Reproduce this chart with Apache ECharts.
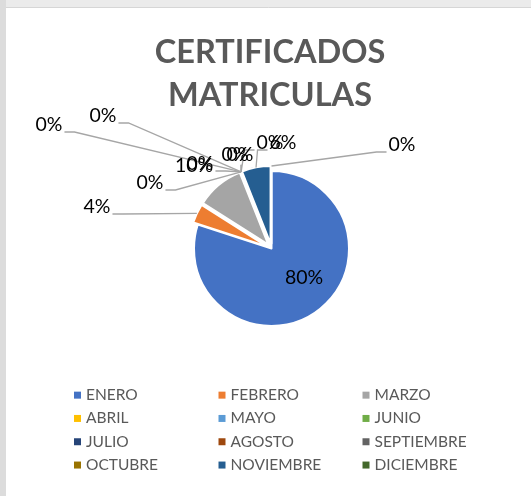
<!DOCTYPE html>
<html>
<head>
<meta charset="utf-8">
<script src="https://cdn.jsdelivr.net/npm/echarts@6/dist/echarts.min.js"></script>
<style>
html,body{margin:0;padding:0;background:#fff;}
#chart{width:531px;height:496px;}
</style>
</head>
<body>
<div id="chart"></div>
<script>
// ---- data ----
const categories = ['ENERO','FEBRERO','MARZO','ABRIL','MAYO','JUNIO','JULIO','AGOSTO','SEPTIEMBRE','OCTUBRE','NOVIEMBRE','DICIEMBRE'];
const values = [80, 4, 10, 0, 0, 0, 0, 0, 0, 0, 6, 0];
const titleLines = ['CERTIFICADOS', 'MATRICULAS'];

// ---- styles ----
const colors = ['#4472C4','#ED7D31','#A5A5A5','#FFC000','#5B9BD5','#70AD47','#264478','#9E480E','#636363','#997300','#255E91','#43682B'];
const labelPos = [[304,278],[97,207],[194,166],[200,164],[150,183],[49,125],[103,116],[235,155],[240,155],[270,143],[283,143],[402,145]];
const noLine = [0, 2];
const CX = 271.5, CY = 248.5, R = 77.5, OFF = 5;
const LABEL_FONT = '19.5px Lato';

const total = values.reduce((a,b)=>a+b,0);
function pct(i){ return Math.round(values[i] / total * 100) + '%'; }
function anchor(i){
  let s = 0;
  for (let k=0;k<i;k++) s += values[k];
  const mid = (s + values[i]/2) / total * 2 * Math.PI;
  const r = R + (i>0 ? OFF : 0);
  return [CX + r*Math.sin(mid), CY - r*Math.cos(mid)];
}
const ctx = document.createElement('canvas').getContext('2d');
ctx.font = LABEL_FONT;
function textW(t){ return ctx.measureText(t).width; }

const labelGraphics = [];
categories.forEach((n, i) => {
  const pos = labelPos[i];
  const t = pct(i);
  if (noLine.indexOf(i) < 0) {
    const w = textW(t), h = 19.5;
    const a = anchor(i);
    let pts;
    if (a[0] >= pos[0] - w/2 && a[0] <= pos[0] + w/2) {
      pts = [[a[0], pos[1] + h/2], a];
    } else if (a[0] > pos[0]) {
      const x0 = pos[0] + w/2 + 2;
      pts = [[x0, pos[1] + 7], [x0 + 10, pos[1] + 7], a];
    } else {
      const x0 = pos[0] - w/2 - 2;
      pts = [[x0, pos[1] + 7], [x0 - 10, pos[1] + 7], a];
    }
    labelGraphics.push({type:'polyline', z: 10, silent: true, shape:{points: pts},
      style:{stroke:'#a6a6a6', lineWidth:1.3, fill: null}});
  }
  labelGraphics.push({type:'text', z: 11, silent: true, x: pos[0], y: pos[1],
    style:{text: t, font: LABEL_FONT, fill:'#000', textAlign:'center', textVerticalAlign:'middle'}});
});

const chart = echarts.init(document.getElementById('chart'));
const legendLefts = [74, 218.5, 362.5];

chart.setOption({
  animation: false,
  title: {
    text: titleLines.join('\n'),
    left: 270, top: 31, padding: 0, textAlign: 'center',
    textStyle: {fontFamily: 'Lato', fontWeight: 'bold', fontSize: 32.5, color: '#595959', lineHeight: 43.3}
  },
  graphic: [
    {type:'rect', shape:{x:0,y:0,width:531,height:8}, style:{fill:'#ebebeb'}, silent:true},
    {type:'rect', shape:{x:0,y:0,width:6,height:496}, style:{fill:'#dcdcdc'}, silent:true},
    {type:'line', shape:{x1:6,y1:7.5,x2:531,y2:7.5}, style:{stroke:'#d6d6d6', lineWidth:1}, silent:true}
  ].concat(labelGraphics),
  legend: [0,1,2].map(c => ({
    orient: 'vertical', left: legendLefts[c], top: 383.5, padding: 0, itemGap: 0,
    itemWidth: 7, itemHeight: 7, icon: 'rect', selectedMode: false,
    itemStyle: {borderWidth: 0},
    data: categories.filter((_, i) => i % 3 === c),
    textStyle: {fontFamily: 'Lato', fontSize: 15.5, color: '#595959', lineHeight: 23.3}
  })),
  series: [{
    type: 'pie',
    center: [CX, CY], radius: R, startAngle: 90, clockwise: true,
    selectedMode: 'multiple', selectedOffset: OFF,
    avoidLabelOverlap: false,
    emphasis: {disabled: true},
    itemStyle: {borderColor: '#fff', borderWidth: 2},
    select: {itemStyle: {borderColor: '#fff', borderWidth: 2}},
    label: {show: false},
    labelLine: {show: false},
    data: categories.map((n, i) => ({
      name: n, value: values[i], selected: i > 0,
      itemStyle: {color: colors[i]}
    }))
  }]
});
</script>
</body>
</html>
